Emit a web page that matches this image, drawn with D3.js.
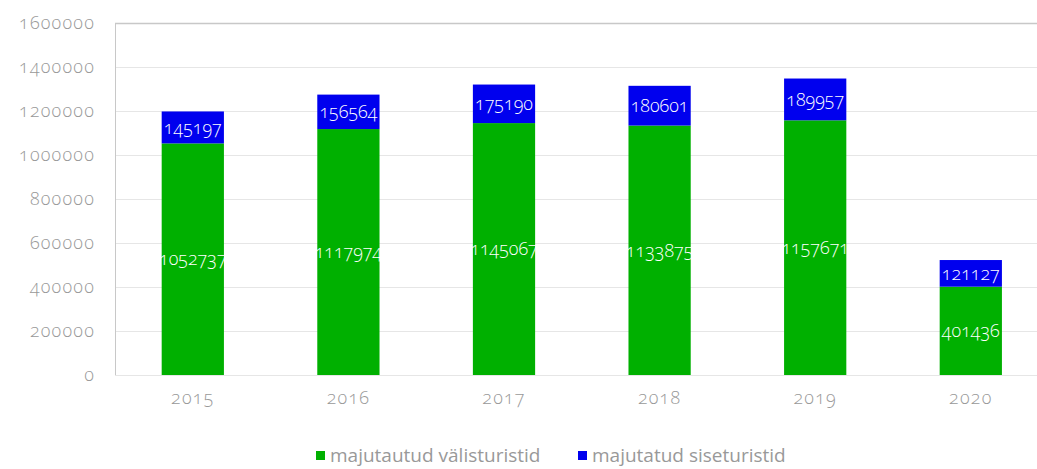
<!DOCTYPE html>
<html>
<head>
<meta charset="utf-8">
<script src="https://cdn.jsdelivr.net/npm/d3@7"></script>
<style>
  body { margin: 0; background: #fff; }
  svg { display: block; font-family: "Open Sans", sans-serif; font-variant-numeric: oldstyle-nums; }
</style>
</head>
<body>
<div id="chart"></div>
<script>
const years = ['2015', '2016', '2017', '2018', '2019', '2020'];
const foreignTourists = [1052737, 1117974, 1145067, 1133875, 1157671, 401436];
const domesticTourists = [145197, 156564, 175190, 180601, 189957, 121127];
const seriesNames = ['majutautud välisturistid', 'majutatud siseturistid'];
const seriesColors = ['#00b000', '#0000ee'];
const yTicks = [0, 200000, 400000, 600000, 800000, 1000000, 1200000, 1400000, 1600000];

const width = 1037, height = 469;
const margin = { left: 115, top: 23, bottom: 94 };
const plotBottom = height - margin.bottom;

const svg = d3.select('#chart').append('svg')
  .attr('width', width)
  .attr('height', height);

const xScale = d3.scaleBand()
  .domain(years)
  .range([margin.left, margin.left + 933.6])
  .paddingInner(0.6)
  .paddingOuter(0.3);

const yScale = d3.scaleLinear()
  .domain([0, 1600000])
  .range([plotBottom, margin.top]);

// grid
svg.append('g')
  .selectAll('line')
  .data(yTicks)
  .join('line')
  .attr('x1', margin.left)
  .attr('x2', width)
  .attr('y1', d => yScale(d) + 0.5)
  .attr('y2', d => yScale(d) + 0.5)
  .attr('stroke', d => d === 1600000 ? '#c8c8c8' : '#e6e6e6')
  .attr('stroke-width', d => d === 1600000 ? 1.5 : 1);

svg.append('line')
  .attr('x1', margin.left + 0.5)
  .attr('x2', margin.left + 0.5)
  .attr('y1', margin.top)
  .attr('y2', plotBottom)
  .attr('stroke', '#c8c8c8');

// y axis labels
const yAxis = d3.axisLeft(yScale).tickValues(yTicks).tickSize(0).tickPadding(20).tickFormat(d3.format('d'));
svg.append('g')
  .attr('transform', `translate(${margin.left},0)`)
  .call(yAxis)
  .call(g => g.select('.domain').remove())
  .selectAll('text')
  .attr('fill', '#999')
  .style('font-size', '18px')
  .style('font-weight', '300')
  .style('letter-spacing', '1.2px')
  .style('font-family', '"Open Sans", sans-serif');

// x axis labels
const xAxis = d3.axisBottom(xScale).tickSize(0).tickPadding(16);
svg.append('g')
  .attr('transform', `translate(0,${plotBottom})`)
  .call(xAxis)
  .call(g => g.select('.domain').remove())
  .selectAll('text')
  .attr('fill', '#999')
  .style('font-size', '18px')
  .style('font-weight', '300')
  .style('letter-spacing', '1.2px')
  .style('font-family', '"Open Sans", sans-serif');

// stacked bars
const rows = years.map((y, i) => ({ year: y, foreign: foreignTourists[i], domestic: domesticTourists[i] }));
const stack = d3.stack().keys(['foreign', 'domestic']);
const layers = stack(rows);

const layerGroups = svg.append('g')
  .selectAll('g')
  .data(layers)
  .join('g')
  .attr('fill', (d, i) => seriesColors[i]);

layerGroups.selectAll('rect')
  .data(d => d)
  .join('rect')
  .attr('x', d => xScale(d.data.year))
  .attr('width', xScale.bandwidth())
  .attr('y', d => yScale(d[1]))
  .attr('height', d => yScale(d[0]) - yScale(d[1]));

layerGroups.selectAll('text')
  .data(d => d)
  .join('text')
  .attr('x', d => xScale(d.data.year) + xScale.bandwidth() / 2)
  .attr('y', d => (yScale(d[0]) + yScale(d[1])) / 2)
  .attr('dy', '0.35em')
  .attr('text-anchor', 'middle')
  .attr('fill', '#fff')
  .style('font-size', '18px')
  .style('font-weight', '300')
  .text(d => d[1] - d[0]);

// legend
const legend = svg.append('g').attr('transform', `translate(316,${height - 4})`);
const legendX = [0, 262];
const items = legend.selectAll('g')
  .data(seriesNames)
  .join('g')
  .attr('transform', (d, i) => `translate(${legendX[i]},0)`);
items.append('rect')
  .attr('x', 0)
  .attr('y', -14)
  .attr('width', 9)
  .attr('height', 9)
  .attr('fill', (d, i) => seriesColors[i]);
items.append('text')
  .attr('x', 14)
  .attr('y', -3)
  .attr('fill', '#999')
  .style('font-size', '19px')
  .text(d => d);
</script>
</body>
</html>
